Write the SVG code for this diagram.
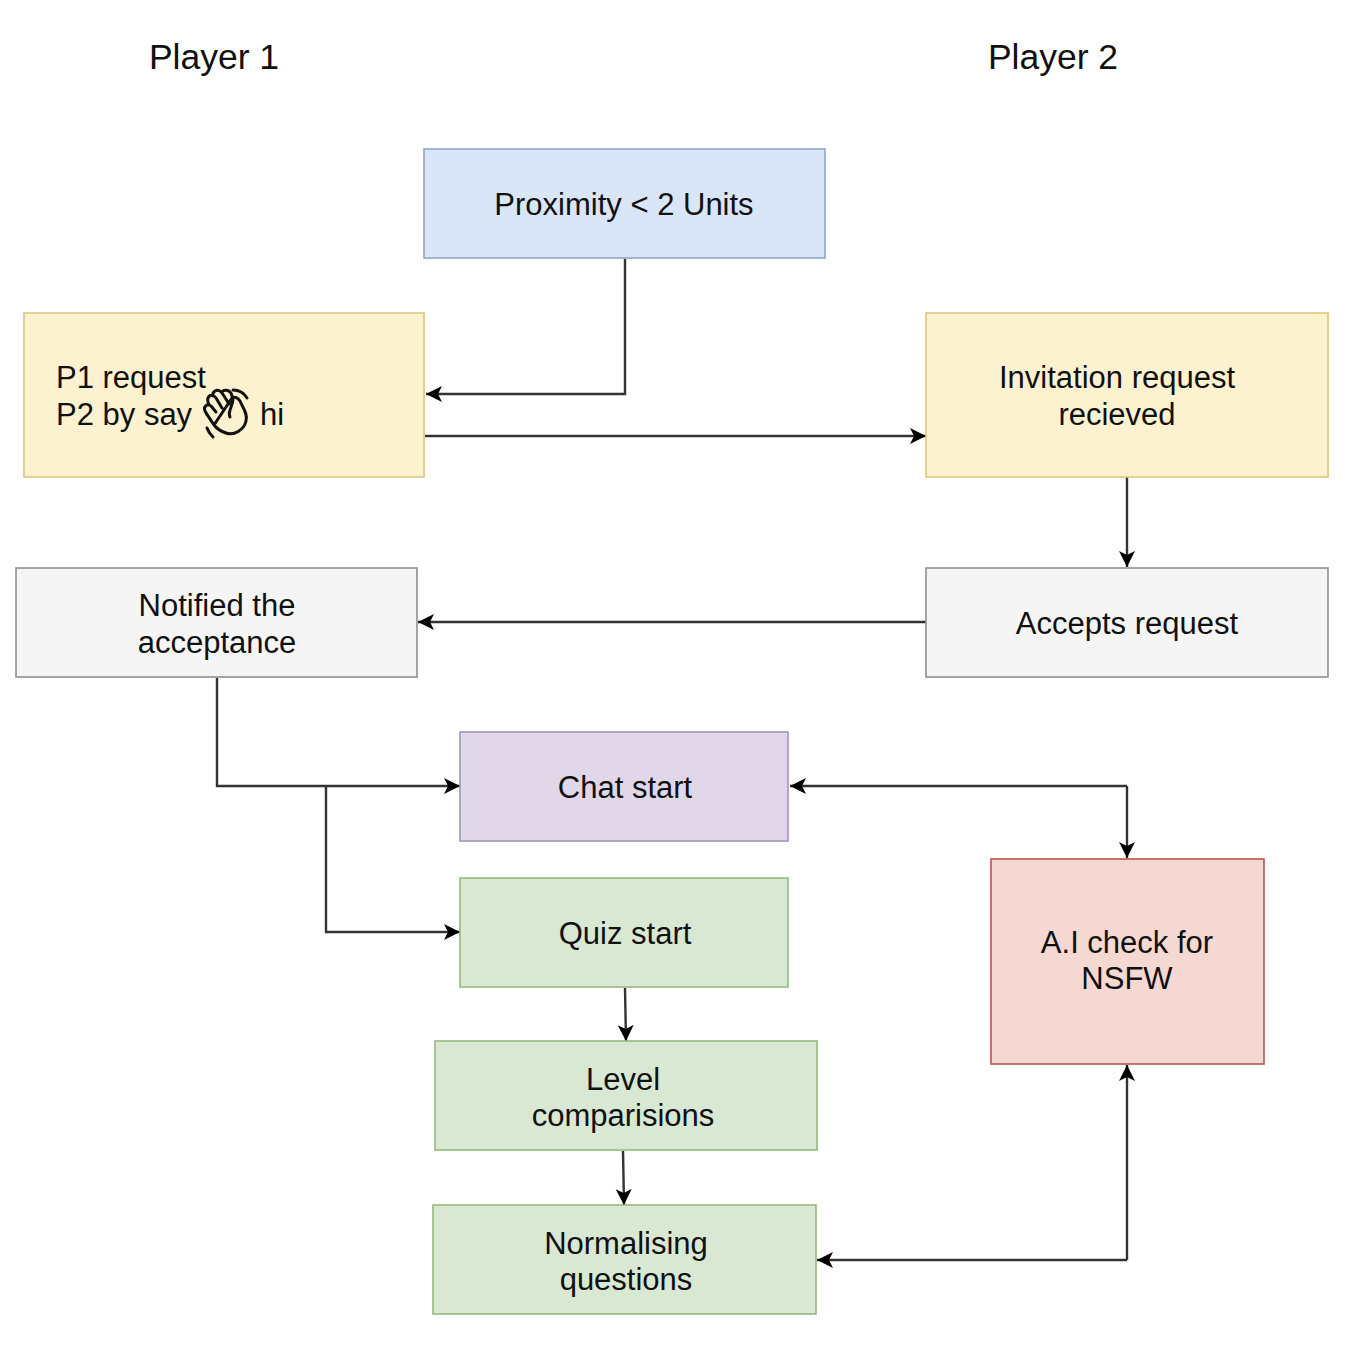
<svg xmlns="http://www.w3.org/2000/svg" width="1358" height="1348" viewBox="0 0 1358 1348">
<style>
text{font-family:"Liberation Sans",Arial,sans-serif;font-size:31px;fill:#111;text-anchor:middle}
.h{font-size:35.5px}
.l{text-anchor:start}
rect{stroke-width:1.6}
.blue{fill:#d9e6f8;stroke:#8ea6cc}
.yellow{fill:#fdf2cf;stroke:#dcc77f}
.grey{fill:#f5f5f5;stroke:#8f8f8f}
.purple{fill:#e0d8e9;stroke:#a097b8}
.green{fill:#d9e8d3;stroke:#94b87f}
.red{fill:#f6d8d3;stroke:#b85450}
#connectors path{fill:none;stroke:#333;stroke-width:2.4;marker-end:url(#a)}
</style>
<defs>
<marker id="a" markerUnits="userSpaceOnUse" markerWidth="18" markerHeight="18" refX="16" refY="8" orient="auto">
<path d="M0 0L16 8L0 16L4 8Z" fill="#000"/>
</marker>
</defs>
<rect width="1358" height="1348" fill="#fff" stroke="none"/>
<text id="player1" class="h" x="214" y="69">Player 1</text>
<text id="player2" class="h" x="1053" y="69">Player 2</text>
<g id="connectors">
<path d="M625 259V394H426"/>
<path d="M425 436H926"/>
<path d="M1127 477V567"/>
<path d="M926 622H418"/>
<path d="M217 678V786H460"/>
<path d="M326 786V932H460"/>
<path d="M1127 786H790"/>
<path d="M1127 786V858"/>
<path d="M625 988L626 1041"/>
<path d="M623 1151L624 1205"/>
<path d="M1127 1260H817"/>
<path d="M1127 1260V1065"/>
</g>
<g id="proximity"><rect class="blue" x="424" y="149" width="401" height="109"/><text x="624" y="215">Proximity &lt; 2 Units</text></g>
<g id="p1-request"><rect class="yellow" x="24" y="313" width="400" height="164"/><text class="l" x="56" y="388">P1 request</text><text class="l" x="56" y="425">P2 by say</text><text class="l" x="260" y="425">hi</text>
<g id="wave" fill="none" stroke="#111" stroke-width="3" stroke-linecap="round" stroke-linejoin="round">
<path d="M214 425C211 420 207 415 205 411C203 406 208 403 211 406L216 412M209 405C208 402 207 400 208 398C210 394 214 395 216 398L222 408M213 396C212 392 216 389 220 391C222 392 224 396 229 404M222 392C224 389 229 390 231 393L233 399C233 403 231 407 230 410C229 413 229 415 230 417M232 398C235 396 238 398 240 401C243 408 248 414 246 421C244 430 234 436 226 433C220 431 217 429 214 425Z"/>
<path d="M233 390C239 390 244 393 247 398M207 428C208 431 210 434 213 437"/>
</g></g>
<g id="invitation"><rect class="yellow" x="926" y="313" width="402" height="164"/><text x="1117" y="388">Invitation request</text><text x="1117" y="425">recieved</text></g>
<g id="notified"><rect class="grey" x="16" y="568" width="401" height="109"/><text x="217" y="616">Notified the</text><text x="217" y="653">acceptance</text></g>
<g id="accepts"><rect class="grey" x="926" y="568" width="402" height="109"/><text x="1127" y="634">Accepts request</text></g>
<g id="chat"><rect class="purple" x="460" y="732" width="328" height="109"/><text x="625" y="798">Chat start</text></g>
<g id="quiz"><rect class="green" x="460" y="878" width="328" height="109"/><text x="625" y="944">Quiz start</text></g>
<g id="level"><rect class="green" x="435" y="1041" width="382" height="109"/><text x="623" y="1090">Level</text><text x="623" y="1126">comparisions</text></g>
<g id="normalising"><rect class="green" x="433" y="1205" width="383" height="109"/><text x="626" y="1254">Normalising</text><text x="626" y="1290">questions</text></g>
<g id="ai"><rect class="red" x="991" y="859" width="273" height="205"/><text x="1127" y="953">A.I check for</text><text x="1127" y="989">NSFW</text></g>
</svg>
